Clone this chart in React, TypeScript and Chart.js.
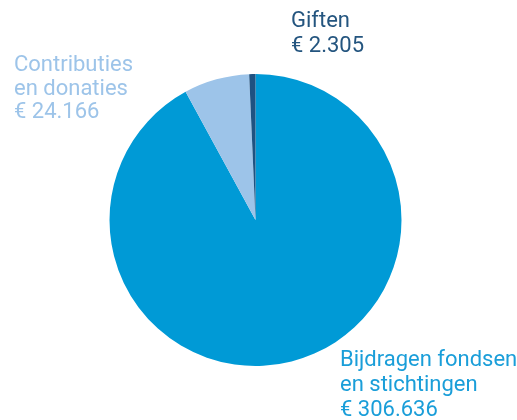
import React, { useEffect, useRef } from "react";
import { Chart, registerables } from "chart.js";

Chart.register(...registerables);

const categories = ["Bijdragen fondsen en stichtingen", "Contributies en donaties", "Giften"];
const values = [306636, 24166, 2305];
const valueLabels = ["€ 306.636", "€ 24.166", "€ 2.305"];
const labelLines = [["Bijdragen fondsen", "en stichtingen"], ["Contributies", "en donaties"], ["Giften"]];
const colors = ["#009ad6", "#9dc4e9", "#1f5281"];
const textColors = ["#1a9ed9", "#9dc4e9", "#24557f"];

const labelPlugin = {
  id: "sliceLabels",
  afterDraw(chart: any) {
    const ctx = chart.ctx;
    const pos = [
      { x: 340, y: 366, lh: 25 },
      { x: 14, y: 71, lh: 23.5 },
      { x: 291, y: 27, lh: 25 },
    ];
    ctx.save();
    ctx.font = "22px Roboto";
    ctx.textAlign = "left";
    ctx.textBaseline = "alphabetic";
    categories.forEach((_, i) => {
      const lines = [...labelLines[i], valueLabels[i]];
      ctx.fillStyle = textColors[i];
      lines.forEach((t, j) => ctx.fillText(t, pos[i].x, pos[i].y + j * pos[i].lh));
    });
    ctx.restore();
  },
};

export default function App() {
  const ref = useRef<HTMLCanvasElement>(null);
  useEffect(() => {
    if (!ref.current) return;
    const chart = new Chart(ref.current, {
      type: "pie",
      data: {
        labels: categories,
        datasets: [{ data: values, backgroundColor: colors, borderWidth: 0 }],
      },
      options: {
        animation: false,
        responsive: false,
        maintainAspectRatio: false,
        layout: { padding: { left: 109.5, right: 115.5, top: 74, bottom: 54 } },
        plugins: { legend: { display: false }, tooltip: { enabled: false } },
      },
      plugins: [labelPlugin],
    });
    return () => chart.destroy();
  }, []);
  return (
    <div style={{ position: "fixed", left: 0, top: 0, width: 517, height: 420, background: "#fff" }}>
      <canvas ref={ref} width={517} height={420} style={{ display: "block" }} />
    </div>
  );
}
